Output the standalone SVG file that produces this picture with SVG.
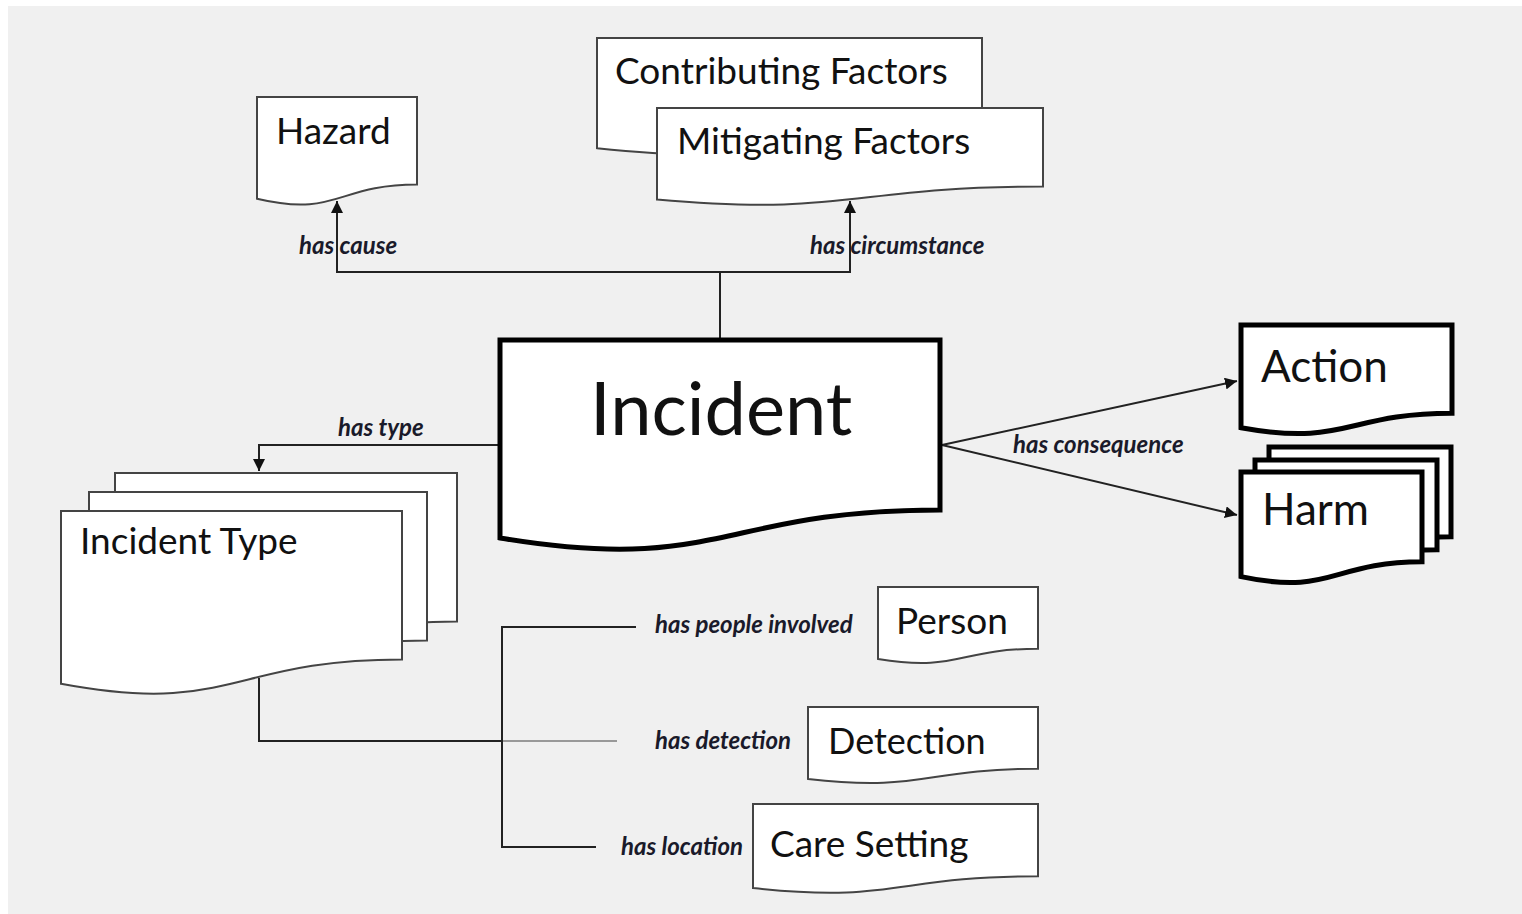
<svg xmlns="http://www.w3.org/2000/svg" width="1522" height="914" viewBox="0 0 1522 914">
<style>
.doc{fill:#fff;stroke:#444;stroke-width:2;stroke-linejoin:miter}
.docb{fill:#fff;stroke:#000;stroke-width:5;stroke-linejoin:miter}
.t{font-family:Lato,"Liberation Sans",sans-serif;fill:#111}
.lbl{font-family:Lato,"Liberation Sans",sans-serif;font-style:italic;font-weight:700;font-size:24px;fill:#1a1a2a}
.c{fill:none;stroke:#222;stroke-width:2}
</style>
<defs>
<marker id="ah" viewBox="0 0 10 10" refX="10" refY="5" markerWidth="6" markerHeight="6" markerUnits="strokeWidth" orient="auto">
<path d="M0,0 L10,5 L0,10 Z" fill="#111"/>
</marker>
</defs>
<rect x="0" y="0" width="1522" height="914" fill="#fff"/>
<rect x="8" y="6" width="1514" height="908" fill="#f0f0f0"/>

<g id="connectors">
<polyline class="c" points="720,340 720,272"/>
<polyline class="c" points="850,272 337,272 337,201" marker-end="url(#ah)"/>
<polyline class="c" points="720,272 850,272 850,201" marker-end="url(#ah)"/>
<polyline class="c" points="500,445 259,445 259,471" marker-end="url(#ah)"/>
<line class="c" x1="942" y1="445" x2="1237" y2="381" marker-end="url(#ah)"/>
<line class="c" x1="942" y1="445" x2="1237" y2="515" marker-end="url(#ah)"/>
<polyline class="c" points="259,678 259,741 502,741"/>
<line x1="502" y1="741" x2="617" y2="741" stroke="#999" stroke-width="2"/>
<polyline class="c" points="636,627 502,627 502,847 596,847"/>
<text class="lbl" x="299" y="254">has cause</text>
<text class="lbl" x="810" y="254">has circumstance</text>
<text class="lbl" x="338" y="436">has type</text>
<text class="lbl" x="1013" y="453">has consequence</text>
<text class="lbl" x="655" y="633">has people involved</text>
<text class="lbl" x="655" y="749">has detection</text>
<text class="lbl" x="621" y="855">has location</text>
</g>

<g id="hazard">
<path class="doc" d="M257,97 H417 V184.4 C337,184.4 337,217.7 257,198.8 Z"/>
<text class="t" x="276" y="144" font-size="37">Hazard</text>
</g>

<g id="contributing-factors">
<path class="doc" d="M597,38 H982 V132.6 C789.5,132.6 789.5,168.7 597,148.2 Z"/>
<text class="t" x="615" y="84" font-size="37">Contributing Factors</text>
</g>

<g id="mitigating-factors">
<path class="doc" d="M657,108 H1043 V186.6 C850,186.6 850,216.5 657,199.5 Z"/>
<text class="t" x="677" y="154" font-size="37">Mitigating Factors</text>
</g>

<g id="incident">
<path class="docb" d="M500,340 H940 V510 C720,510 720,574.8 500,538 Z"/>
<text class="t" x="590" y="435" font-size="74">Incident</text>
</g>

<g id="action">
<path class="docb" d="M1241,325 H1452 V413.2 C1346.5,413.2 1346.5,446.8 1241,427.7 Z"/>
<text class="t" x="1261" y="382" font-size="44">Action</text>
</g>

<g id="harm">
<path class="docb" d="M1269,447 H1451 V536.8 C1360,536.8 1360,571 1269,551.6 Z"/>
<path class="docb" d="M1255,460 H1437 V549.8 C1346,549.8 1346,584 1255,564.6 Z"/>
<path class="docb" d="M1241,472 H1422 V561.8 C1331.5,561.8 1331.5,596 1241,576.6 Z"/>
<text class="t" x="1262" y="525" font-size="44">Harm</text>
</g>

<g id="incident-type">
<path class="doc" d="M115,473 H457 V621.4 C286,621.4 286,677.9 115,645.8 Z"/>
<path class="doc" d="M89,492 H427 V640.4 C258,640.4 258,696.9 89,664.8 Z"/>
<path class="doc" d="M61,511 H402 V659.4 C231.5,659.4 231.5,715.9 61,683.8 Z"/>
<text class="t" x="80" y="554" font-size="37">Incident Type</text>
</g>

<g id="person">
<path class="doc" d="M878,587 H1038 V648.8 C958,648.8 958,672.3 878,658.9 Z"/>
<text class="t" x="896" y="634" font-size="37">Person</text>
</g>

<g id="detection">
<path class="doc" d="M808,707 H1038 V768.8 C923,768.8 923,792.3 808,778.9 Z"/>
<text class="t" x="828" y="754" font-size="36">Detection</text>
</g>

<g id="care-setting">
<path class="doc" d="M753,804 H1038 V876.2 C895.5,876.2 895.5,903.7 753,888.1 Z"/>
<text class="t" x="770" y="857" font-size="37">Care Setting</text>
</g>
</svg>
